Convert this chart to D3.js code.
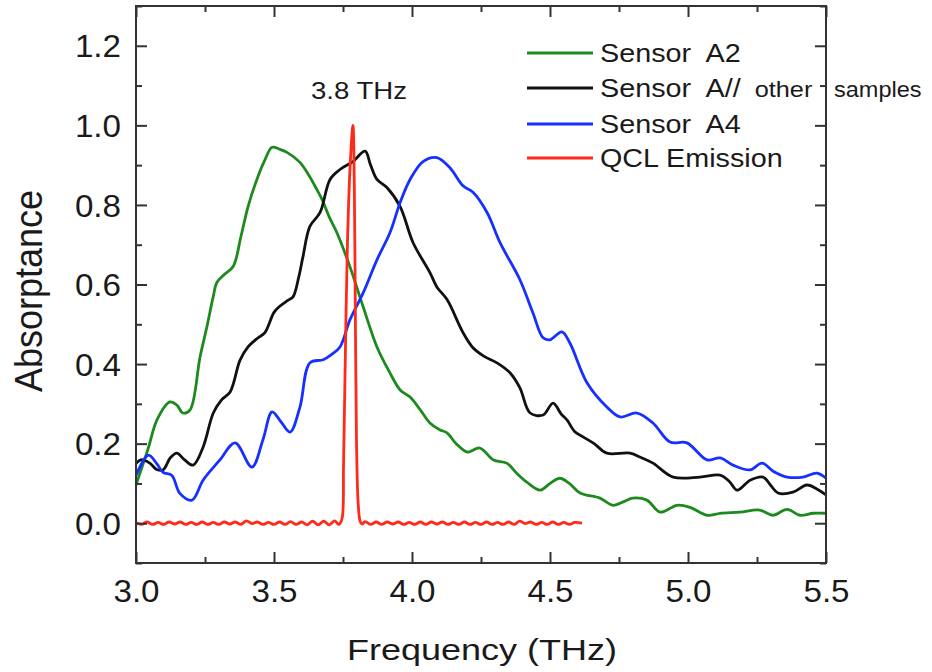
<!DOCTYPE html>
<html>
<head>
<meta charset="utf-8">
<script src="https://cdn.jsdelivr.net/npm/d3@7"></script>
<style>
  body { margin: 0; background: #fff; }
  text { font-family: "Liberation Sans", Arial, sans-serif; fill: #1a1a1a; }
</style>
</head>
<body>
<div id="container"></div>
<script>
let w = 932;
let h = 672;

// frequency (THz) / absorptance pairs
let a2Freq = [3.000,3.045,3.076,3.123,3.148,3.170,3.196,3.232,3.257,3.280,3.293,3.320,3.352,3.380,3.406,3.438,3.465,3.493,3.520,3.547,3.594,3.630,3.655,3.674,3.700,3.728,3.775,3.823,3.873,3.920,3.957,3.993,4.030,4.065,4.100,4.127,4.160,4.200,4.246,4.295,4.343,4.380,4.416,4.464,4.500,4.536,4.570,4.609,4.681,4.728,4.770,4.800,4.851,4.899,4.960,5.007,5.069,5.116,5.188,5.260,5.308,5.359,5.406,5.453,5.500];
let a2Abs  = [0.096,0.190,0.260,0.305,0.297,0.277,0.285,0.418,0.494,0.570,0.605,0.625,0.645,0.720,0.796,0.864,0.910,0.945,0.940,0.932,0.907,0.870,0.839,0.814,0.770,0.730,0.645,0.544,0.443,0.378,0.335,0.317,0.285,0.252,0.235,0.227,0.200,0.179,0.189,0.159,0.151,0.125,0.103,0.083,0.100,0.113,0.100,0.076,0.063,0.045,0.055,0.063,0.058,0.028,0.045,0.040,0.020,0.025,0.028,0.033,0.020,0.035,0.020,0.025,0.025];

let aFreq = [3.000,3.020,3.050,3.075,3.098,3.125,3.148,3.175,3.207,3.243,3.280,3.310,3.341,3.377,3.406,3.440,3.467,3.500,3.522,3.550,3.569,3.590,3.605,3.630,3.667,3.703,3.739,3.786,3.830,3.850,3.873,3.909,3.957,4.004,4.065,4.090,4.127,4.185,4.221,4.260,4.308,4.355,4.391,4.428,4.475,4.511,4.540,4.562,4.590,4.620,4.660,4.706,4.790,4.830,4.873,4.946,5.043,5.116,5.150,5.178,5.225,5.272,5.300,5.326,5.380,5.431,5.470,5.500];
let aAbs  = [0.150,0.160,0.151,0.135,0.134,0.165,0.176,0.160,0.146,0.191,0.277,0.310,0.330,0.410,0.443,0.465,0.479,0.530,0.546,0.560,0.569,0.620,0.670,0.746,0.781,0.864,0.889,0.909,0.935,0.900,0.864,0.844,0.796,0.705,0.630,0.594,0.562,0.479,0.441,0.420,0.403,0.378,0.340,0.277,0.272,0.302,0.275,0.259,0.230,0.217,0.200,0.176,0.176,0.165,0.151,0.116,0.116,0.121,0.105,0.083,0.108,0.116,0.095,0.076,0.078,0.096,0.085,0.071];

let a4Freq = [3.000,3.045,3.075,3.098,3.130,3.159,3.203,3.243,3.304,3.359,3.420,3.460,3.493,3.525,3.558,3.594,3.630,3.678,3.710,3.739,3.775,3.823,3.873,3.920,3.957,3.993,4.040,4.090,4.138,4.185,4.221,4.272,4.319,4.391,4.438,4.475,4.500,4.543,4.572,4.634,4.706,4.754,4.815,4.873,4.935,4.996,5.069,5.116,5.163,5.225,5.268,5.310,5.359,5.417,5.467,5.500];
let a4Abs  = [0.120,0.171,0.150,0.128,0.120,0.075,0.058,0.108,0.159,0.202,0.141,0.210,0.280,0.255,0.229,0.292,0.403,0.411,0.425,0.443,0.511,0.579,0.662,0.730,0.806,0.864,0.909,0.919,0.893,0.848,0.832,0.781,0.705,0.612,0.529,0.466,0.461,0.481,0.453,0.353,0.292,0.267,0.277,0.252,0.204,0.202,0.159,0.164,0.146,0.134,0.151,0.130,0.116,0.116,0.126,0.113];

let qclFreq = [3.00,3.02,3.04,3.06,3.08,3.10,3.12,3.14,3.16,3.18,3.20,3.22,3.24,3.26,3.28,3.30,3.32,3.34,3.36,3.38,3.40,3.42,3.44,3.46,3.48,3.50,3.52,3.54,3.56,3.58,3.60,3.62,3.64,3.66,3.68,3.70,3.72,3.735,3.746,3.752,3.758,3.766,3.776,3.786,3.791,3.795,3.799,3.805,3.812,3.819,3.83,3.85,3.87,3.89,3.91,3.93,3.95,3.97,3.99,4.01,4.03,4.05,4.07,4.09,4.11,4.13,4.15,4.17,4.19,4.21,4.23,4.25,4.27,4.29,4.31,4.33,4.35,4.37,4.39,4.41,4.43,4.45,4.47,4.49,4.51,4.53,4.55,4.57,4.59,4.616];
let qclAbs  = [0.001,-0.003,0.003,-0.003,0.002,-0.003,0.003,-0.002,0.003,-0.003,0.002,-0.003,0.003,-0.003,0.002,-0.003,0.003,-0.002,0.003,-0.003,0.006,-0.001,0.003,-0.003,0.002,-0.003,0.003,-0.003,0.004,-0.003,0.003,-0.004,0.005,-0.004,0.005,-0.004,0.006,-0.003,0.010,0.150,0.400,0.700,0.900,1.000,0.850,0.500,0.200,0.050,0.005,-0.002,0.004,-0.003,0.003,-0.003,0.003,-0.002,0.003,-0.003,0.002,-0.003,0.003,-0.003,0.003,-0.002,0.003,-0.003,0.002,-0.003,0.003,-0.003,0.002,-0.003,0.003,-0.003,0.002,-0.003,0.003,-0.003,0.005,-0.001,0.003,-0.003,0.002,-0.003,0.003,-0.003,0.002,-0.003,0.002,0.000];

let series = [
  {name: "Sensor  A2", freq: a2Freq, abs: a2Abs, color: "#1e8a1e"},
  {name: "Sensor  A//", freq: aFreq, abs: aAbs, color: "#111111"},
  {name: "Sensor  A4", freq: a4Freq, abs: a4Abs, color: "#1530ff"},
  {name: "QCL Emission", freq: qclFreq, abs: qclAbs, color: "#ff2a1a"}
];

let xMajor = [3.0, 3.5, 4.0, 4.5, 5.0, 5.5];
let xMinor = [3.25, 3.75, 4.25, 4.75, 5.25];
let yMajor = [0.0, 0.2, 0.4, 0.6, 0.8, 1.0, 1.2];
let yMinor = [-0.1, 0.1, 0.3, 0.5, 0.7, 0.9, 1.1, 1.3];

let viz = d3.select("#container")
  .append("svg")
  .attr("width", w)
  .attr("height", h)
  .style("background-color", "#fff");

let xScale = d3.scaleLinear().domain([3.0, 5.5]).range([136, 826]);
let yScale = d3.scaleLinear().domain([-0.1, 1.3]).range([563, 6]);

// curves first, frame over them
series.forEach(s => {
  let pts = s.freq.map((f, i) => [f, s.abs[i]]);
  let line = d3.line()
    .x(d => xScale(d[0]))
    .y(d => yScale(d[1]))
    .curve(d3.curveCatmullRom.alpha(0.5));
  viz.append("path")
    .datum(pts)
    .attr("fill", "none")
    .attr("stroke", s.color)
    .attr("stroke-width", 2.8)
    .attr("stroke-linejoin", "round")
    .attr("d", line);
});

function styleAxis(g) {
  g.selectAll("path").remove();
  g.selectAll("line").attr("stroke", "#333").attr("stroke-width", 2);
}

// major + minor ticks on all four sides, pointing inward
let bottom = viz.append("g").attr("transform", "translate(0,563)")
  .call(d3.axisBottom(xScale).tickValues(xMajor).tickSize(-11).tickFormat(d3.format(".1f")));
viz.append("g").attr("transform", "translate(0,563)")
  .call(d3.axisBottom(xScale).tickValues(xMinor).tickSize(-6).tickFormat("")).call(styleAxis);
viz.append("g").attr("transform", "translate(0,6)")
  .call(d3.axisTop(xScale).tickValues(xMajor).tickSize(-11).tickFormat("")).call(styleAxis);
viz.append("g").attr("transform", "translate(0,6)")
  .call(d3.axisTop(xScale).tickValues(xMinor).tickSize(-6).tickFormat("")).call(styleAxis);

let left = viz.append("g").attr("transform", "translate(136,0)")
  .call(d3.axisLeft(yScale).tickValues(yMajor).tickSize(-11).tickFormat(d3.format(".1f")));
viz.append("g").attr("transform", "translate(136,0)")
  .call(d3.axisLeft(yScale).tickValues(yMinor).tickSize(-6).tickFormat("")).call(styleAxis);
viz.append("g").attr("transform", "translate(826,0)")
  .call(d3.axisRight(yScale).tickValues(yMajor).tickSize(-11).tickFormat("")).call(styleAxis);
viz.append("g").attr("transform", "translate(826,0)")
  .call(d3.axisRight(yScale).tickValues(yMinor).tickSize(-6).tickFormat("")).call(styleAxis);

styleAxis(bottom);
styleAxis(left);
bottom.attr("font-family", null);
left.attr("font-family", null);
// labels stretched a little sideways like the source
bottom.selectAll("text")
  .attr("y", null).attr("dy", null)
  .attr("transform", "translate(0,39) scale(1.07,1)")
  .attr("font-size", 31).attr("fill", "#1a1a1a");
left.selectAll("text")
  .attr("x", null).attr("dy", "0.36em")
  .attr("transform", "translate(-15,0) scale(1.07,1)")
  .attr("font-size", 31).attr("fill", "#1a1a1a");

viz.append("rect")
  .attr("x", 136).attr("y", 6)
  .attr("width", 826 - 136).attr("height", 563 - 6)
  .attr("fill", "none").attr("stroke", "#333").attr("stroke-width", 2);

// stretched text helper (the source figure has wide glyphs)
function label(x, y, str, size, sx, anchor, rot) {
  let t = viz.append("text")
    .attr("transform", "translate(" + x + "," + y + ") scale(" + sx + ",1)" + (rot ? " rotate(" + rot + ")" : ""))
    .attr("font-size", size)
    .attr("text-anchor", anchor || "start")
    .style("white-space", "pre")
    .text(str);
  return t;
}

label(482, 660, "Frequency (THz)", 30, 1.2, "middle");
label(42, 291, "Absorptance", 36, 1.1, "middle", -90);
label(359, 99, "3.8 THz", 23, 1.2, "middle");

// legend
let legendY = [53, 88, 124, 158];
series.forEach((s, i) => {
  viz.append("line")
    .attr("x1", 527).attr("x2", 593)
    .attr("y1", legendY[i]).attr("y2", legendY[i])
    .attr("stroke", s.color).attr("stroke-width", 2.8);
  let t = label(600, legendY[i] + 9, s.name, 25, 1.15, "start");
  if (i == 1) {
    t.append("tspan").attr("font-size", 22).text("  other");
  }
});
label(834, legendY[1] + 9, "samples", 22, 1.07, "start");
</script>
</body>
</html>
